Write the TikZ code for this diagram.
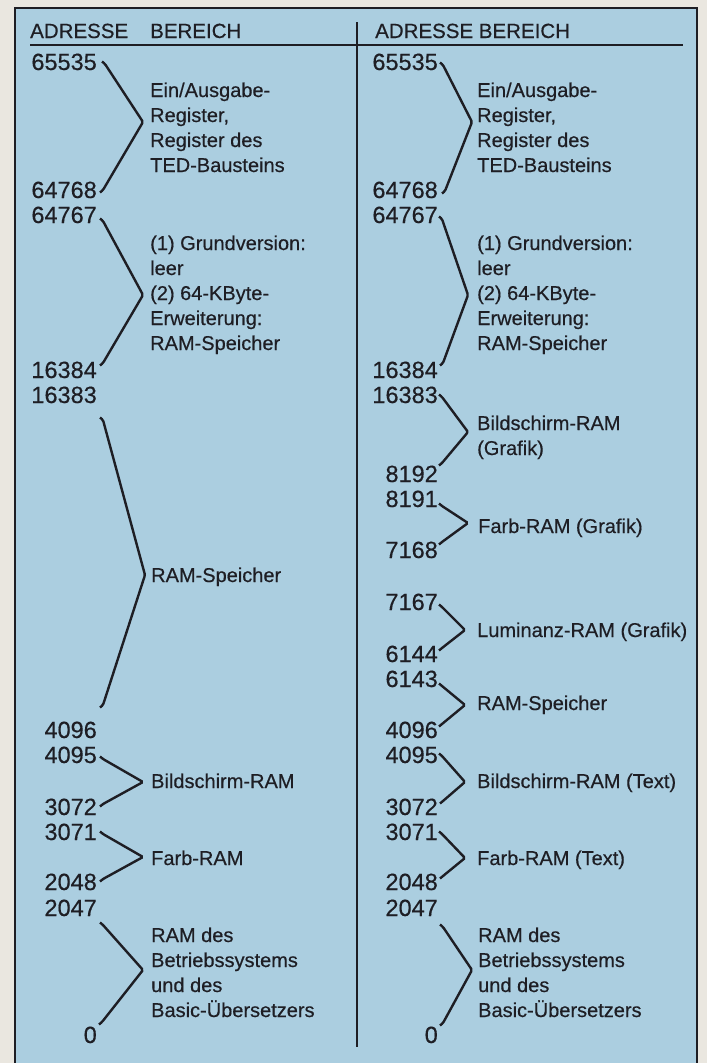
\documentclass[tikz,border=0pt]{standalone}
\usepackage{fontspec}
\setmainfont{Liberation Sans}[FakeBold=0.45]
\definecolor{paper}{RGB}{234,231,224}
\definecolor{bluebg}{RGB}{171,206,224}
\definecolor{ink}{RGB}{30,30,36}
\newcommand\brc[6]{\draw[bracestyle] (#1-3,#2-2.5) -- (#1,#2) -- (#3,#4) -- (#5,#6) -- (#5-3,#6+2.5);}
\newcommand\lns[1]{\vtop{\baselineskip=25pt\lineskiplimit=-20pt\lineskip=0pt #1}}
\begin{document}
\begin{tikzpicture}[x=1pt,y=-1pt,
  num/.style={anchor=base east,inner sep=0pt,text=ink,font=\fontsize{23.5}{25}\selectfont},
  lab/.style={anchor=base west,inner sep=0pt,text=ink,font=\fontsize{20}{25}\selectfont},
  hdr/.style={anchor=base west,inner sep=0pt,text=ink,font=\fontsize{20.5}{25}\selectfont},
  bracestyle/.style={draw=ink,line width=2.4pt,rounded corners=1.5pt},
  rule/.style={draw=ink,line width=1.7pt}]
\useasboundingbox (0,0) rectangle (707,1063);
\fill[paper] (0,0) rectangle (707,1063);
\fill[bluebg] (15,8) rectangle (697,1063);
\draw[ink,line width=2.4pt] (15,1063) -- (15,8) -- (697,8) -- (697,1063);
% header
\node[hdr] (hA) at (30,38) {ADRESSE};
\node[hdr] (hB) at (150,38) {BEREICH};
\node[hdr] (hC) at (375,38) {ADRESSE BEREICH};
\coordinate (hl1) at (30,45);
\coordinate (hl2) at (683,45);
\draw[rule] (hl1) -- (hl2);
\coordinate (s1) at (357,22);
\coordinate (s2) at (357,1047);
\draw[rule] (s1) -- (s2);
% ---------- left column ----------
\node[num] (L1a) at (97,70) {65535};
\node[num] (L1b) at (97,198) {64768};
\brc{105}{64}{143}{122}{103}{190}
\node[lab] (L1t) at (150,97) {\lns{\hbox{Ein/Ausgabe-}\hbox{Register,}\hbox{Register des}\hbox{TED-Bausteins}}};
\node[num] (L2a) at (97,223) {64767};
\node[num] (L2b) at (97,378) {16384};
\brc{103}{221}{143}{295}{103}{363}
\node[lab] (L2t) at (150,250) {\lns{\hbox{(1) Grundversion:}\hbox{leer}\hbox{(2) 64-KByte-}\hbox{Erweiterung:}\hbox{RAM-Speicher}}};
\node[num] (L3a) at (97,403) {16383};
\node[num] (L3b) at (97,738) {4096};
\brc{103}{420}{145}{575}{103}{705}
\node[lab] (L3t) at (151,582) {RAM-Speicher};
\node[num] (L4a) at (97,763) {4095};
\node[num] (L4b) at (97,815) {3072};
\brc{103}{759}{143}{782}{103}{804}
\node[lab] (L4t) at (151,788) {Bildschirm-RAM};
\node[num] (L5a) at (97,840) {3071};
\node[num] (L5b) at (97,890) {2048};
\brc{103}{834}{143}{857}{103}{879}
\node[lab] (L5t) at (151,865) {Farb-RAM};
\node[num] (L6a) at (97,916) {2047};
\node[num] (L6b) at (97,1043) {0};
\brc{103}{925}{143}{970}{102}{1022}
\node[lab] (L6t) at (151,942) {\lns{\hbox{RAM des}\hbox{Betriebssystems}\hbox{und des}\hbox{Basic-Übersetzers}}};
% ---------- right column ----------
\node[num] (R1a) at (438,70) {65535};
\node[num] (R1b) at (438,198) {64768};
\brc{443}{65}{472}{122}{445}{191}
\node[lab] (R1t) at (477,97) {\lns{\hbox{Ein/Ausgabe-}\hbox{Register,}\hbox{Register des}\hbox{TED-Bausteins}}};
\node[num] (R2a) at (438,223) {64767};
\node[num] (R2b) at (438,378) {16384};
\brc{442}{219}{468}{295}{443}{363}
\node[lab] (R2t) at (477,250) {\lns{\hbox{(1) Grundversion:}\hbox{leer}\hbox{(2) 64-KByte-}\hbox{Erweiterung:}\hbox{RAM-Speicher}}};
\node[num] (R3a) at (438,403) {16383};
\node[num] (R3b) at (438,482) {8192};
\brc{442}{397}{468}{432}{442}{463}
\node[lab] (R3t) at (477,430) {\lns{\hbox{Bildschirm-RAM}\hbox{(Grafik)}}};
\node[num] (R4a) at (438,507) {8191};
\node[num] (R4b) at (438,558) {7168};
\brc{442}{506}{468}{523}{442}{542}
\node[lab] (R4t) at (478,533) {Farb-RAM (Grafik)};
\node[num] (R5a) at (438,610) {7167};
\node[num] (R5b) at (438,662) {6144};
\brc{442}{607}{465}{630}{442}{648}
\node[lab] (R5t) at (477,637) {Luminanz-RAM (Grafik)};
\node[num] (R6a) at (438,687) {6143};
\node[num] (R6b) at (438,738) {4096};
\brc{442}{686}{465}{705}{442}{724}
\node[lab] (R6t) at (477,710) {RAM-Speicher};
\node[num] (R7a) at (438,763) {4095};
\node[num] (R7b) at (438,815) {3072};
\brc{442}{756}{465}{782}{443}{801}
\node[lab] (R7t) at (477,788) {Bildschirm-RAM (Text)};
\node[num] (R8a) at (438,840) {3071};
\node[num] (R8b) at (438,890) {2048};
\brc{442}{834}{465}{858}{443}{876}
\node[lab] (R8t) at (477,865) {Farb-RAM (Text)};
\node[num] (R9a) at (438,916) {2047};
\node[num] (R9b) at (438,1043) {0};
\brc{443}{927}{472}{970}{443}{1023}
\node[lab] (R9t) at (478,942) {\lns{\hbox{RAM des}\hbox{Betriebssystems}\hbox{und des}\hbox{Basic-Übersetzers}}};
\end{tikzpicture}
\end{document}
